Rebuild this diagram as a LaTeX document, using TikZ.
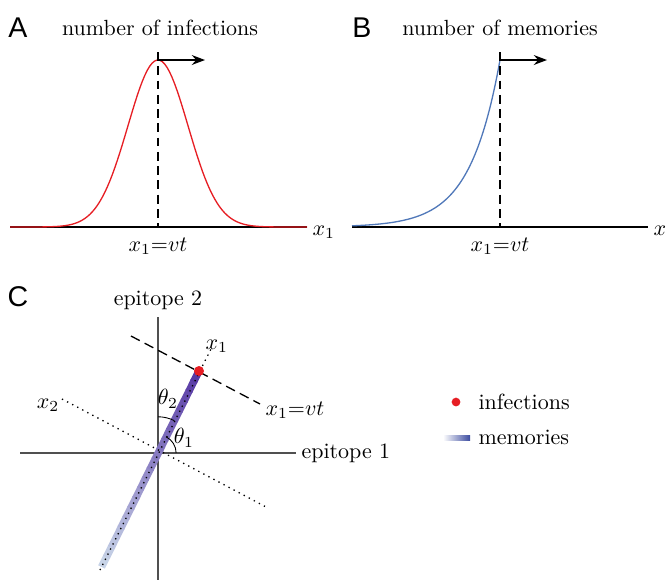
\documentclass[tikz,border=0pt]{standalone}
\usepackage{fontspec}
\usepackage{xcolor}
\usetikzlibrary{arrows.meta,calc}
\newfontfamily\panelfont{Liberation Sans}
\definecolor{infred}{RGB}{230,30,36}
\definecolor{memblue}{RGB}{80,120,185}
\definecolor{memlow}{RGB}{200,212,232}
\definecolor{memhigh}{RGB}{88,58,165}
\definecolor{legblue}{RGB}{60,76,160}
\definecolor{axgrey}{RGB}{80,80,80}

\begin{document}
\begin{tikzpicture}[x=0.016cm, y=-0.016cm,
  panel/.style={font=\panelfont\fontsize{13}{15}\selectfont, inner sep=0pt},
  title/.style={inner sep=1pt},
  axis/.style={black, line width=0.6pt},
  marker/.style={black, dash pattern=on 4pt off 2.5pt, line width=0.6pt},
  move/.style={-{Stealth[length=6pt, width=4.5pt]}, black, line width=0.6pt},
  lab/.style={inner sep=1pt}
]
\useasboundingbox (0,0) rectangle (666,581);

% panel A: infections
\node[panel] (letA) at (18,28) {A};
\node[title] (titA) at (160,28) {number of infections};
\coordinate (a0) at (10,227);
\coordinate (a1) at (307,227);
\coordinate (peakA) at (158,60);
\coordinate (topA) at (158,52);
\coordinate (baseA) at (158,227);
\coordinate (headA) at (205,60);
\draw[axis] (a0) -- (a1);
\node[lab, anchor=west] (xa) at (310,232) {$x_1$};
\draw[infred, line width=0.6pt] plot[domain=10:307, samples=120]
  (\x, {227-167*exp(-((\x-158)/30)^2/2)});
\draw[marker] (topA) -- (baseA);
\draw[move] (peakA) -- (headA);
\node[lab] (vtA) at (158,246) {$x_1{=}vt$};

% panel B: memories
\node[panel] (letB) at (362,28) {B};
\node[title] (titB) at (500,28) {number of memories};
\coordinate (b0) at (352,227);
\coordinate (b1) at (648,227);
\coordinate (peakB) at (500,60);
\coordinate (topB) at (500,52);
\coordinate (baseB) at (500,227);
\coordinate (headB) at (547,60);
\draw[axis] (b0) -- (b1);
\node[lab, anchor=west] (xb) at (651,232) {$x_1$};
\draw[memblue, line width=0.6pt] plot[domain=352:500, samples=100]
  (\x, {227-167*exp((\x-500)/30)});
\draw[marker] (topB) -- (baseB);
\draw[move] (peakB) -- (headB);
\node[lab] (vtB) at (500,246) {$x_1{=}vt$};

% panel C: epitope space
\node[panel] (letC) at (18,297) {C};
\coordinate (O) at (158,453);
\coordinate (vtop) at (158,317);
\coordinate (vbot) at (158,580);
\coordinate (hleft) at (20,453);
\coordinate (hright) at (296,453);
\draw[axgrey, line width=0.6pt] (vtop) -- (vbot);
\draw[axgrey, line width=0.6pt] (hleft) -- (hright);
\node[lab] (ep2) at (158,300) {epitope 2};
\node[lab, anchor=west] (ep1) at (299,453) {epitope 1};

% memory trail, light to dark
\coordinate (mlo) at (102,566);
\coordinate (mhi) at (199,371);
\foreach \i in {0,...,19}{
  \pgfmathsetmacro\pct{100*\i/19}
  \draw[memhigh!\pct!memlow, line width=3.4pt]
    ($(mlo)!{\i/20-0.005}!(mhi)$) -- ($(mlo)!{(\i+1)/20}!(mhi)$);
}

% direction x1 and x2
\coordinate (d1lo) at (100,570);
\coordinate (d1hi) at (211,349);
\draw[black, dotted, line width=0.6pt] (d1lo) -- (d1hi);
\node[lab, anchor=south west] (x1c) at (203,355) {$x_1$};
\coordinate (d2lo) at (62,399);
\coordinate (d2hi) at (268,508);
\draw[black, dotted, line width=0.6pt] (d2lo) -- (d2hi);
\node[lab] (x2c) at (48,405) {$x_2$};

% front x1 = vt
\coordinate (f0) at (131,336);
\coordinate (f1) at (260,404);
\draw[black, dash pattern=on 4.5pt off 2.5pt, line width=0.6pt] (f0) -- (f1);
\node[lab] (vtC) at (295,410) {$x_1{=}vt$};

% angles
\draw[black, line width=0.4pt] (O) ++(90:0.58cm) arc[start angle=90, end angle=63.4, radius=0.58cm];
\draw[black, line width=0.4pt] (O) ++(0:0.29cm) arc[start angle=0, end angle=63.4, radius=0.29cm];
\node[lab] (th2) at (168,399) {$\theta_2$};
\node[lab] (th1) at (184,438) {$\theta_1$};

% infection point
\fill[infred] (mhi) circle[radius=0.08cm];

% legend
\coordinate (legdot) at (456,402);
\fill[infred] (legdot) circle[radius=0.07cm];
\node[lab, anchor=west] (leginf) at (476,402) {infections};
\shade[left color=white, right color=legblue] (443,435) rectangle (470,440);
\node[lab, anchor=west] (legmem) at (476,437) {memories};
\end{tikzpicture}
\end{document}
